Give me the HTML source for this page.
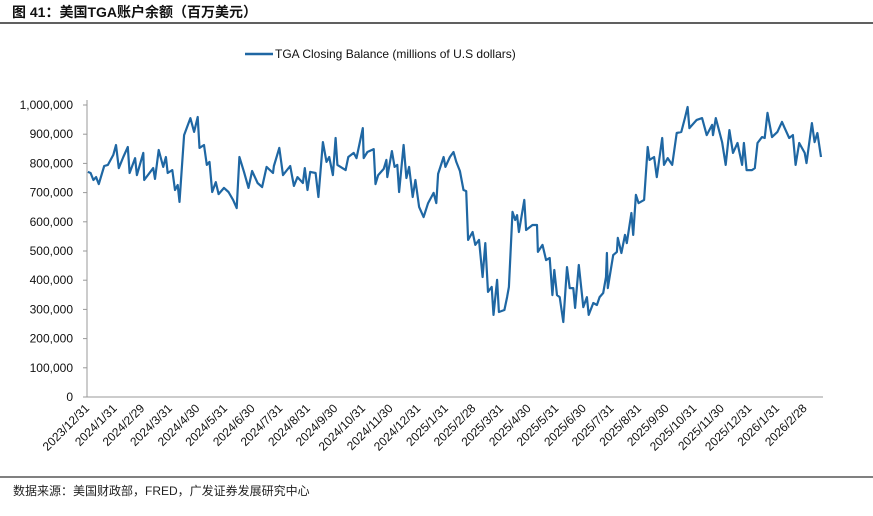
<!DOCTYPE html>
<html><head><meta charset="utf-8"><style>
body{margin:0;width:873px;height:511px;background:#fff;overflow:hidden;font-family:"Liberation Sans","Noto Sans CJK SC",sans-serif}
</style></head><body>
<svg width="873" height="511" xmlns="http://www.w3.org/2000/svg">
<text x="12" y="17" font-size="14" font-weight="bold" fill="#111" font-family="Liberation Sans, Noto Sans CJK SC, sans-serif">图 41：美国TGA账户余额（百万美元）</text>
<line x1="0" y1="23" x2="873" y2="23" stroke="#000" stroke-width="1.2"/>
<g>
<line x1="245" y1="54" x2="273" y2="54" stroke="#1f67a3" stroke-width="2.5"/>
<text x="275" y="58" font-size="12" fill="#111">TGA Closing Balance (millions of U.S dollars)</text>
</g>
<g id="yaxis"></g>
<g id="xaxis"></g>
<path id="line" fill="none" stroke="#1f67a3" stroke-width="2.2" stroke-linejoin="round"/>
<line x1="0" y1="477" x2="873" y2="477" stroke="#000" stroke-width="1"/>
<text x="13" y="495" font-size="12" fill="#222">数据来源：美国财政部，FRED，广发证券发展研究中心</text>
</svg>
<script>
const yTicks=[0,100000,200000,300000,400000,500000,600000,700000,800000,900000,1000000];
const xLabels=["2023/12/31","2024/1/31","2024/2/29","2024/3/31","2024/4/30","2024/5/31","2024/6/30","2024/7/31","2024/8/31","2024/9/30","2024/10/31","2024/11/30","2024/12/31","2025/1/31","2025/2/28","2025/3/31","2025/4/30","2025/5/31","2025/6/30","2025/7/31","2025/8/31","2025/9/30","2025/10/31","2025/11/30","2025/12/31","2026/1/31","2026/2/28"];
const days=[1,4,7,10,13,19,23,29,32,35,40,45,47,53,55,62,63,73,75,79,84,87,89,94,97,100,102,107,114,118,122,124,129,132,135,138,142,145,151,156,161,165,168,173,178,182,188,193,198,205,206,212,216,224,228,232,238,240,243,246,252,255,260,264,267,271,274,276,285,288,294,297,304,305,309,316,318,321,327,330,331,336,339,342,344,349,352,355,359,362,366,371,376,382,385,387,393,395,400,404,407,411,415,418,420,425,428,432,436,439,442,446,448,452,454,460,463,465,469,472,474,476,482,484,491,496,497,502,506,510,513,515,518,521,525,529,532,536,538,542,547,551,553,558,562,565,569,572,573,574,580,584,585,589,593,595,600,602,605,608,614,618,620,625,628,634,636,640,645,650,655,659,662,664,672,678,683,689,690,693,700,704,708,712,717,722,724,727,733,736,739,744,747,750,755,761,766,769,774,778,781,785,791,793,799,802,805,809];
const balance=[771,767,743,753,729,791,795,829,863,784,822,856,767,818,760,836,743,784,747,846,788,822,767,777,709,726,668,897,955,908,959,853,863,795,805,702,736,695,716,702,675,647,822,771,716,774,733,719,788,767,791,853,760,791,723,753,733,784,709,771,767,685,873,805,822,760,887,795,777,822,836,818,921,818,839,849,729,760,781,812,753,842,788,795,702,863,750,788,685,743,651,616,664,699,664,764,822,788,822,839,805,774,709,705,538,565,521,538,411,527,360,377,281,401,291,298,342,377,634,606,623,565,675,572,589,589,497,521,469,476,349,435,349,342,257,445,373,373,305,452,308,342,281,322,315,342,356,411,493,373,486,497,545,493,555,527,630,555,692,664,675,856,812,822,753,887,795,818,795,904,908,955,993,921,949,955,897,932,897,955,873,795,914,836,870,795,870,777,777,784,870,890,887,973,890,908,942,921,887,897,795,870,836,801,938,873,904,822];
const NS='http://www.w3.org/2000/svg';
const X0=87,X1=821,D1=809,Y0=397,Y1=105,VMAX=1000000;
function xs(d){return X0+(d/D1)*(X1-X0);}
function ys(v){return Y0-(v/VMAX)*(Y0-Y1);}
function fmt(v){return v.toLocaleString('en-US');}
const ya=document.getElementById('yaxis');
const ax=document.createElementNS(NS,'line');
ax.setAttribute('x1',X0);ax.setAttribute('x2',X0);ax.setAttribute('y1',Y1-5);ax.setAttribute('y2',Y0);
ax.setAttribute('stroke','#999');


ya.appendChild(ax);
yTicks.forEach(v=>{
 const t=document.createElementNS(NS,'line');
 t.setAttribute('x1',X0-4);t.setAttribute('x2',X0);t.setAttribute('y1',ys(v));t.setAttribute('y2',ys(v));t.setAttribute('stroke','#999');
 
 
 ya.appendChild(t);
 const l=document.createElementNS(NS,'text');
 l.setAttribute('x',X0-14);l.setAttribute('y',ys(v)+4);l.setAttribute('text-anchor','end');l.setAttribute('font-size','12');l.setAttribute('fill','#111');
 l.textContent=fmt(v);
 
 
 ya.appendChild(l);
});
const xa=document.getElementById('xaxis');
const bl=document.createElementNS(NS,'line');
bl.setAttribute('x1',X0);bl.setAttribute('x2',X1+2);bl.setAttribute('y1',Y0);bl.setAttribute('y2',Y0);bl.setAttribute('stroke','#999');


xa.appendChild(bl);
xLabels.forEach((s,i)=>{
 const x=xs(i*30.42);
 const l=document.createElementNS(NS,'text');
 l.setAttribute('x',x+3);l.setAttribute('y',Y0+12);l.setAttribute('text-anchor','end');l.setAttribute('font-size','12');l.setAttribute('fill','#111');
 l.setAttribute('transform','rotate(-45 '+(x+3)+' '+(Y0+12)+')');
 l.textContent=s;
 
 
 xa.appendChild(l);
});
let d='';
days.forEach((dd,i)=>{d+=(i?'L':'M')+xs(dd).toFixed(1)+' '+ys(balance[i]*1000).toFixed(1);});
document.getElementById('line').setAttribute('d',d);
</script>
</body></html>
